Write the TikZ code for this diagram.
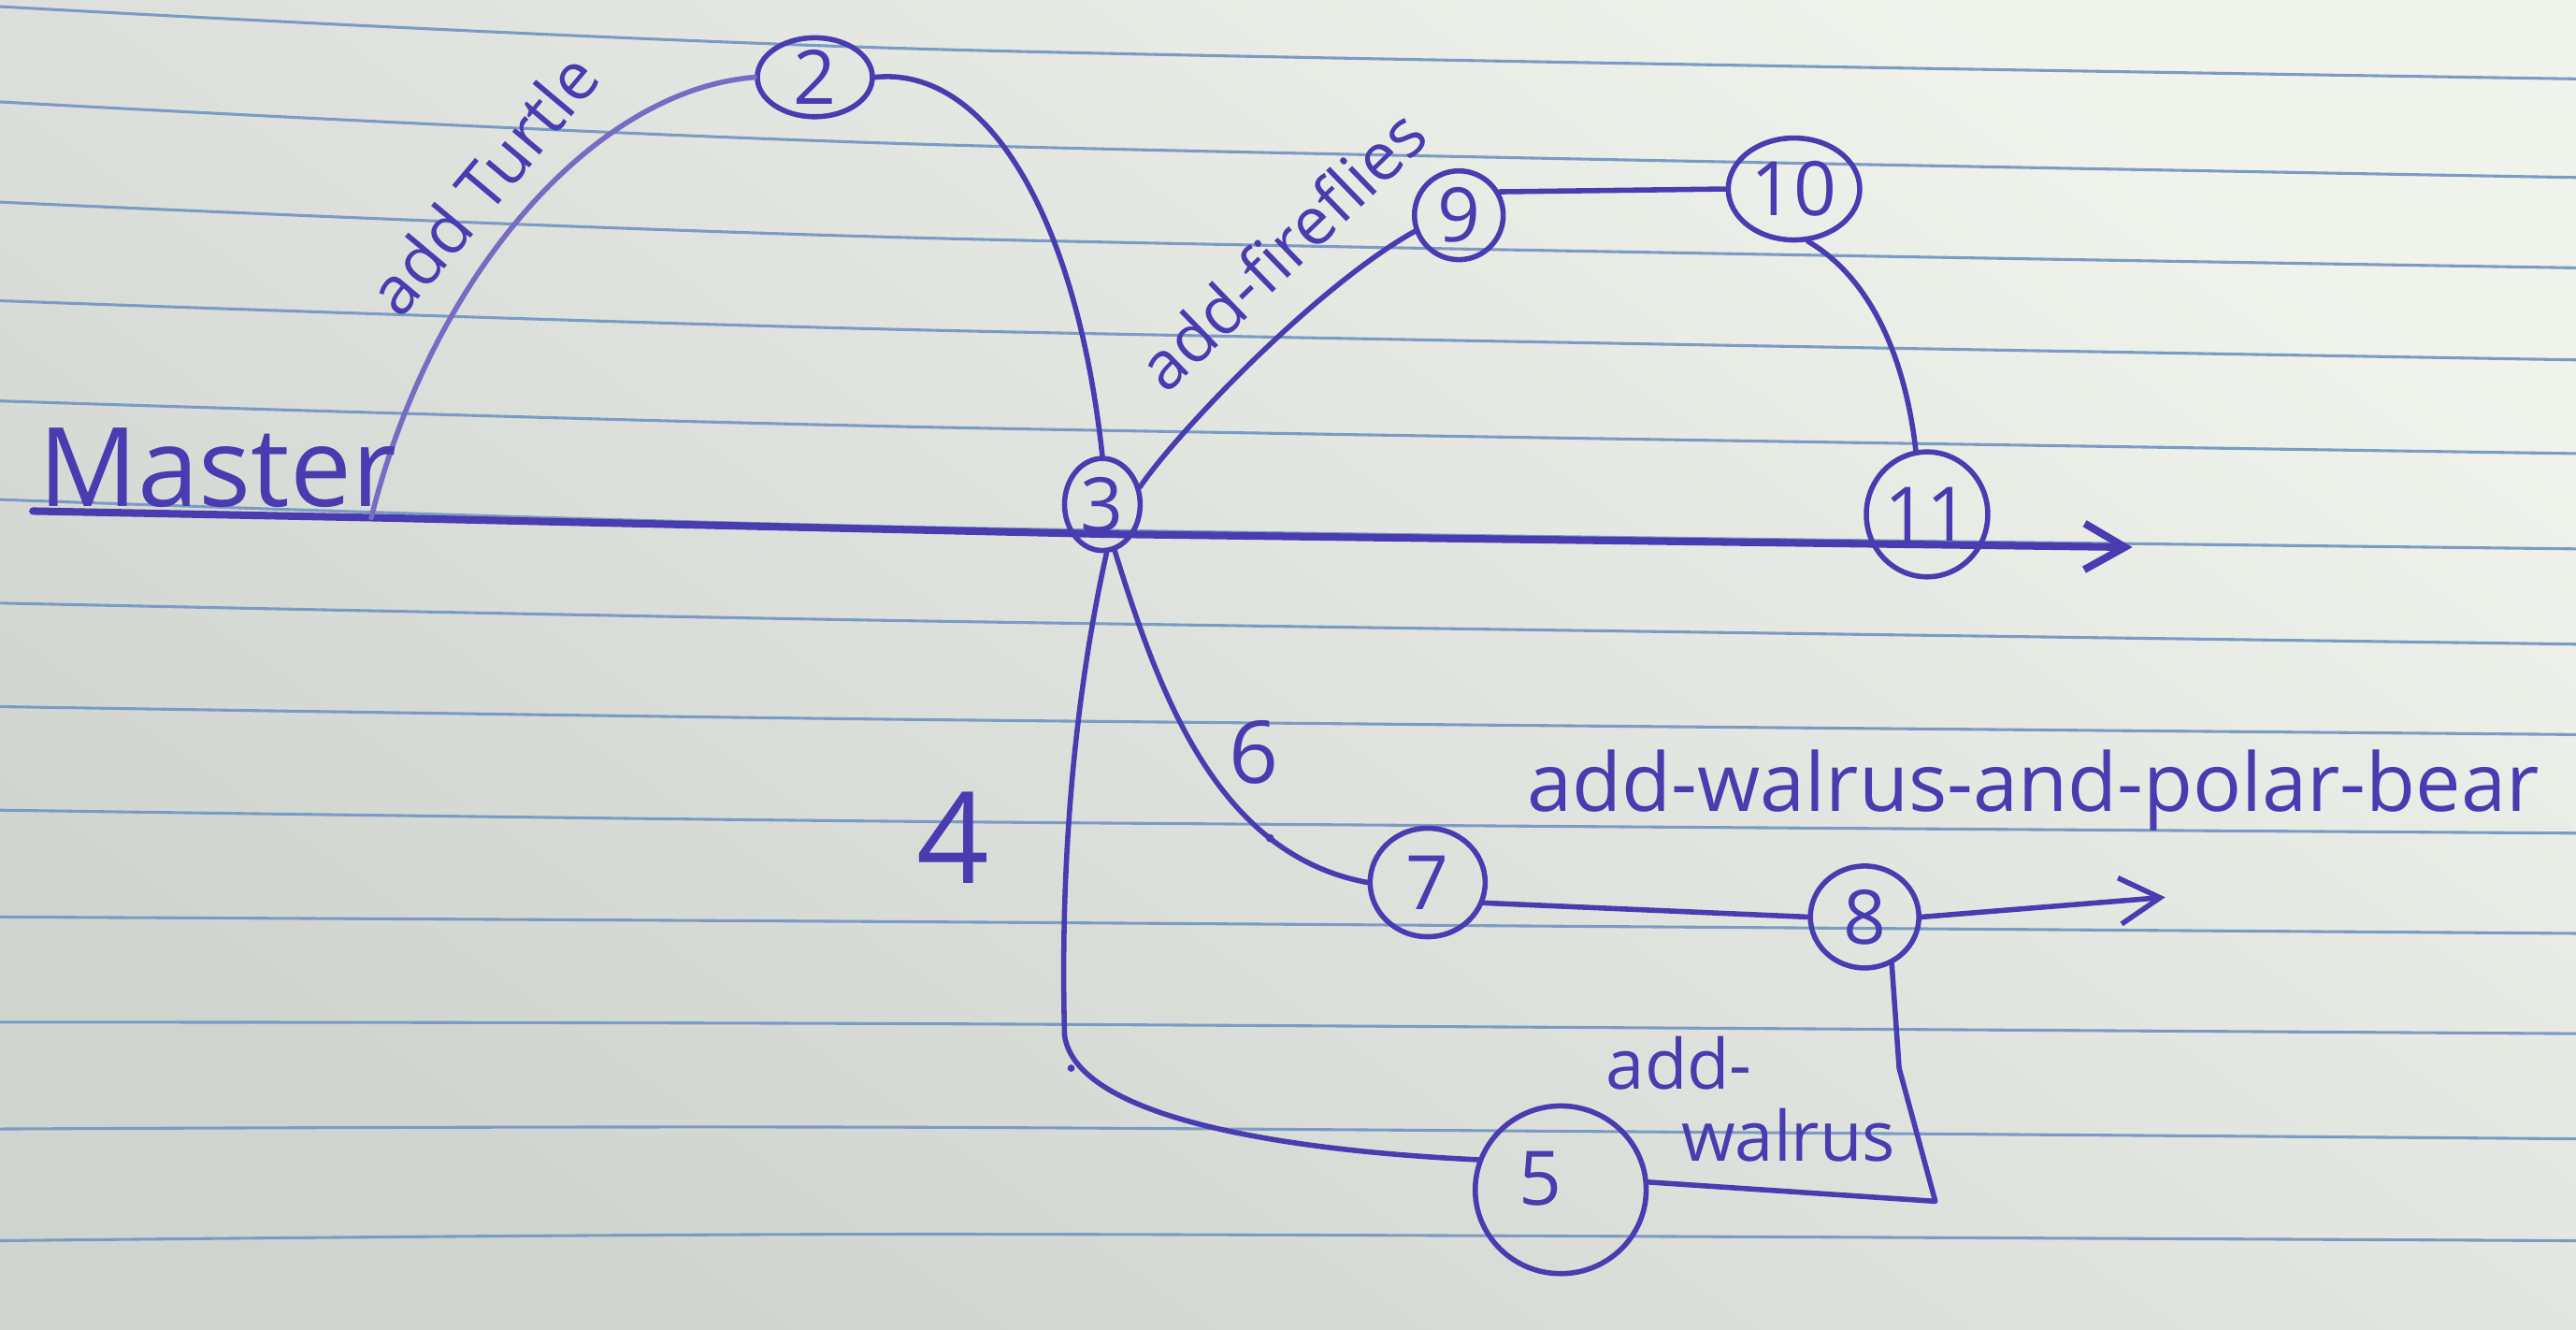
\documentclass[tikz,border=0pt]{standalone}
\usepackage{fontspec}
\setmainfont{Open Sans}
\usetikzlibrary{shapes.geometric,arrows.meta}
\definecolor{ink}{RGB}{72,60,176}
\definecolor{inklight}{RGB}{118,108,196}
\definecolor{paperA}{RGB}{240,242,236}
\definecolor{paperB}{RGB}{208,212,206}
\definecolor{rulec}{RGB}{122,156,196}
\begin{document}
\begin{tikzpicture}[x=0.01cm,y=-0.01cm,
  commit/.style={draw=ink, line width=0.9pt, ellipse, inner sep=0pt, text=ink, font=\fontsize{13}{15}\selectfont},
  pen/.style={draw=ink, line width=0.9pt, line cap=round, line join=round},
  lbl/.style={text=ink, inner sep=0pt},
  rl/.style={draw=rulec, line width=0.5pt},
  barb/.style={-{Straight Barb[length=7pt,width=8pt]}}]
\useasboundingbox (0,0) rectangle (1568,809);
\shade[top color=paperA, bottom color=paperB, shading angle=-35] (0,0) rectangle (1568,809);
\foreach \a/\b/\c in {4/30/48, 62/88/108, 123/145/163, 183/201/219, 244/260/276, 304/321/334, 367/378/392, 430/438/447, 493/500/507, 558/561/568, 622/623/629, 687/686/693, 755/751/755}
  \draw[rl] plot[smooth] coordinates {(0,\a) (569,\b) (1568,\c)};

% commits
\node[commit, minimum width=0.70cm, minimum height=0.48cm] (n2) at (496,47) {2};
\node[commit, minimum width=0.46cm, minimum height=0.56cm] (n3) at (671,307) {3};
\node[commit, minimum width=0.54cm, minimum height=0.54cm] (n9) at (888,131) {9};
\node[commit, minimum width=0.80cm, minimum height=0.62cm] (n10) at (1092,115) {10};
\node[commit, minimum width=0.60cm, minimum height=0.76cm] (n11) at (1173,313) {11};
\node[commit, minimum width=0.70cm, minimum height=0.66cm] (n7) at (869,537) {7};
\node[commit, minimum width=0.66cm, minimum height=0.62cm] (n8) at (1135,558) {8};
\node[commit, minimum width=1.04cm, minimum height=1.02cm] (n5) at (950,724) {\hspace*{-7pt}\raisebox{4pt}{5}};

% master line
\coordinate (m0) at (20,311);
\coordinate (mb) at (226,315);
\coordinate (m3) at (671,325);
\coordinate (mend) at (1298,333);
\draw[pen, line width=1.3pt, barb] (m0) -- (mb) -- (m3) -- (mend);

% branches
\draw[pen, draw=inklight] (mb) .. controls (262,170) and (360,55) .. (n2.west);
\draw[pen] (n2.east) .. controls (600,40) and (655,130) .. (n3.north);
\draw[pen] (n3.25) .. controls (715,265) and (800,175) .. (n9.200);
\draw[pen] (n9.30) -- (n10.west);
\draw[pen] (n10.-75) .. controls (1140,170) and (1160,220) .. (n11.100);
\draw[pen] (n3.-75) .. controls (705,420) and (740,520) .. (n7.west);
\draw[pen] (n3.-85) .. controls (655,420) and (645,520) .. (648,630) .. controls (655,680) and (780,700) .. (n5.160);
\draw[pen] (n7.-20) -- (n8.west);
\coordinate (a8) at (1318,546);
\draw[pen, barb] (n8.east) -- (a8);
\coordinate (k1) at (1156,650);
\coordinate (k2) at (1178,731);
\draw[pen] (n8.-60) -- (k1) -- (k2) -- (n5.5);
\fill[ink] (773,510) circle (0.025cm);
\fill[ink] (652,650) circle (0.022cm);

% labels
\node[lbl, font=\fontsize{19}{22}\selectfont, anchor=base west] (tmaster) at (23,308) {Master};
\node[lbl, font=\fontsize{11.5}{13}\selectfont, rotate=50] (tturtle) at (294,112) {add Turtle};
\node[lbl, font=\fontsize{11.5}{13}\selectfont, rotate=44] (tfire) at (780,152) {add-fireflies};
\node[lbl, font=\fontsize{14}{16}\selectfont, anchor=base west] (tpolar) at (929,494) {add-walrus-and-polar-bear};
\node[lbl, font=\fontsize{12}{12.5}\selectfont, align=left, anchor=north west] (twalrus) at (977,630) {add-\\\hspace*{13pt}walrus};
\node[lbl, font=\fontsize{15}{17}\selectfont] (t6) at (763,458) {6};
\node[lbl, font=\fontsize{22}{24}\selectfont] (t4) at (580,510) {4};
\end{tikzpicture}
\end{document}
